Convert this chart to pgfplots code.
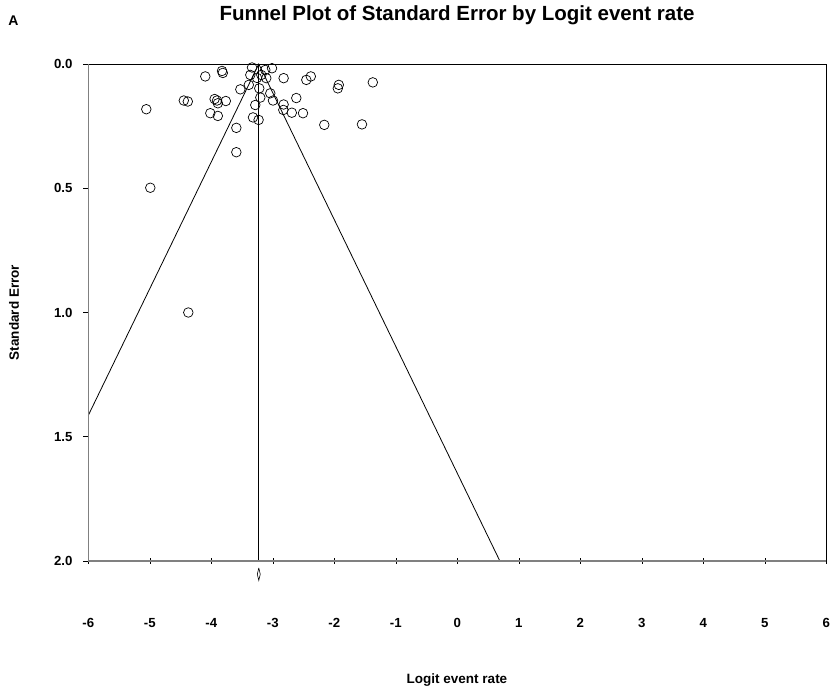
\documentclass[border=0pt]{standalone}
\usepackage{fontspec}
\setmainfont{Liberation Sans}
\usepackage{pgfplots}
\pgfplotsset{compat=1.18}
\begin{document}
\begin{tikzpicture}
\useasboundingbox (0pt,0pt) rectangle (837pt,692pt);
\node[anchor=base west, inner sep=0pt, font=\fontsize{14}{16}\selectfont\bfseries] at (8.3pt,666pt) {A};
\node[anchor=base, inner sep=0pt, font=\fontsize{20.5}{24}\selectfont\bfseries] at (457pt,671.3pt) {Funnel Plot of Standard Error by Logit event rate};
\node[anchor=base, inner sep=0pt, font=\fontsize{13.5}{16}\selectfont\bfseries] at (457pt,8.7pt) {Logit event rate};
\node[anchor=center, rotate=90, inner sep=0pt, font=\fontsize{13.5}{16}\selectfont\bfseries] at (14pt,379.5pt) {Standard Error};
\begin{axis}[
  at={(88.3pt,628pt)}, anchor=north west,
  scale only axis, width=738pt, height=497pt,
  xmin=-6, xmax=6, ymin=0, ymax=2, y dir=reverse,
  clip=false,
  xtick={-6,-5,-4,-3,-2,-1,0,1,2,3,4,5,6},
  xticklabels={-6,-5,-4,-3,-2,-1,0,1,2,3,4,5,6},
  ytick={0,0.5,1,1.5,2}, yticklabels={0.0,0.5,1.0,1.5,2.0},
  xtick pos=bottom, ytick pos=left,
  xtick align=center, ytick align=outside,
  major tick length=5pt,
  tick style={black, line width=0.6pt},
  ticklabel style={font=\fontsize{13.2}{15}\selectfont\bfseries},
  xticklabel style={anchor=base, inner sep=0pt, yshift=-63.5pt},
  yticklabel style={anchor=east, inner sep=0pt, xshift=-10.6pt},
  axis line style={black, line width=0.8pt},
]
% funnel
\addplot[black, line width=0.8pt] coordinates {(-6,1.414) (-3.228,0) (0.692,2)};
\addplot[black, line width=0.8pt] coordinates {(-3.228,0) (-3.228,2)};
% grey left/bottom axis lines
\addplot[gray, line width=1.5pt] coordinates {(-6,0) (-6,2) (6,2)};
% summary diamond
\addplot[black, line width=0.6pt] coordinates {(-3.228,2.028) (-3.204,2.053) (-3.228,2.078) (-3.252,2.053) (-3.228,2.028)};
% studies
\addplot[only marks, mark=o, mark size=4.8pt, mark options={black, line width=0.7pt}] coordinates {
(-5.057,0.182) (-4.992,0.498) (-4.098,0.050) (-3.826,0.028) (-3.813,0.036)
(-4.447,0.147) (-4.382,0.151) (-3.946,0.141) (-3.907,0.147) (-3.894,0.158)
(-3.764,0.149) (-4.016,0.198) (-3.894,0.209) (-3.593,0.257) (-3.593,0.355)
(-3.528,0.102) (-3.390,0.084) (-3.338,0.014) (-3.366,0.044) (-3.257,0.056)
(-3.220,0.098) (-3.122,0.024) (-3.013,0.017) (-3.106,0.057) (-3.203,0.135)
(-3.285,0.165) (-3.322,0.215) (-3.231,0.225) (-3.041,0.118) (-2.997,0.147)
(-2.824,0.057) (-2.824,0.163) (-2.829,0.185) (-2.691,0.196) (-2.509,0.198)
(-2.618,0.137) (-2.455,0.064) (-2.382,0.050) (-1.927,0.084) (-1.943,0.098)
(-1.374,0.074) (-2.163,0.245) (-1.550,0.243) (-4.374,1.000) (-3.187,0.044)
};
\end{axis}
\end{tikzpicture}
\end{document}
